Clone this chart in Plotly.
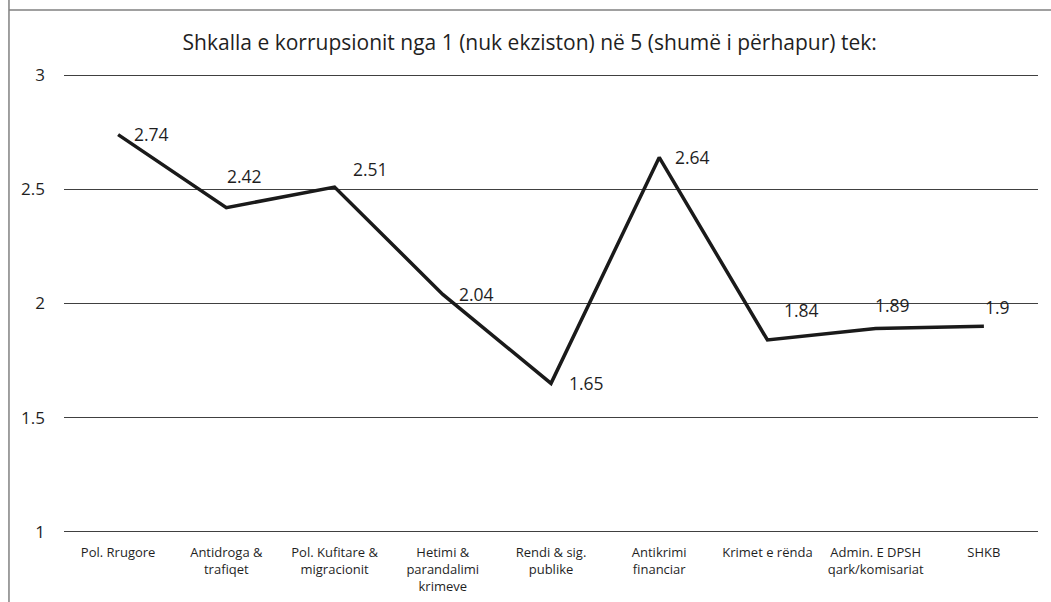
import plotly.graph_objects as go

categories = ["Pol. Rrugore", "Antidroga &<br>trafiqet", "Pol. Kufitare &<br>migracionit",
              "Hetimi &<br>parandalimi<br>krimeve", "Rendi & sig.<br>publike", "Antikrimi<br>financiar",
              "Krimet e rënda", "Admin. E DPSH<br>qark/komisariat", "SHKB"]
values = [2.74, 2.42, 2.51, 2.04, 1.65, 2.64, 1.84, 1.89, 1.9]
value_labels = ["2.74", "2.42", "2.51", "2.04", "1.65", "2.64", "1.84", "1.89", "1.9"]
y_ticks = [1, 1.5, 2, 2.5, 3]
y_tick_labels = ["1", "1.5", "2", "2.5", "3"]
title = "Shkalla e korrupsionit nga 1 (nuk ekziston) në 5 (shumë i përhapur) tek:"

# label offsets (px) relative to each point: left edge shift, vertical shift
label_dx = [14, -1, 16, 14, 16, 14, 15, -3, -1]
label_dy = [1, 32, 18, 0, 0, 0, 30, 24, 19]

FONT = "Open Sans"
TXT = "#1f1f1f"

fig = go.Figure()
fig.add_trace(go.Scatter(
    x=list(range(len(categories))), y=values, mode="lines",
    line=dict(color="#1a1a1a", width=3.5), showlegend=False, hoverinfo="skip",
))

for i, (v, lab) in enumerate(zip(values, value_labels)):
    fig.add_annotation(x=i, y=v, text=lab, showarrow=False, xanchor="left", yanchor="middle",
                       xshift=label_dx[i], yshift=label_dy[i],
                       font=dict(family=FONT, size=17.5, color=TXT))

# outer frame (left and top edges)
fig.add_shape(type="line", xref="paper", yref="paper", x0=-0.0565, x1=-0.0565, y0=1.2, y1=-0.2,
              line=dict(color="#808080", width=1.5))
fig.add_shape(type="line", xref="paper", yref="paper", x0=-0.0565, x1=1.05,
              y0=(602 - 68 - 10) / 461, y1=(602 - 68 - 10) / 461,
              line=dict(color="#808080", width=1.5))

fig.update_layout(
    width=1051, height=602,
    margin=dict(l=64, r=13, t=73, b=68),
    paper_bgcolor="white", plot_bgcolor="white",
    title=dict(text=title, x=0.504, xanchor="center", y=1 - 43 / 602, yanchor="middle",
               font=dict(family=FONT, size=21, color=TXT)),
    font=dict(family=FONT, color=TXT),
    xaxis=dict(tickmode="array", tickvals=list(range(len(categories))), ticktext=categories,
               range=[-0.5, len(categories) - 0.5], showgrid=False, zeroline=False, automargin=False,
               showline=False, ticks="", tickfont=dict(size=13, color=TXT), ticklabelstandoff=9),
    yaxis=dict(tickmode="array", tickvals=y_ticks, ticktext=y_tick_labels, range=[0.99, 3.01],
               showgrid=True, gridcolor="#404040", gridwidth=1, zeroline=False, showline=False,
               automargin=False,
               ticks="", tickfont=dict(size=17, color=TXT), ticklabelstandoff=18),
)

fig.write_html("out.html", post_script="document.body.style.margin='0';",
               config={"displayModeBar": False})
